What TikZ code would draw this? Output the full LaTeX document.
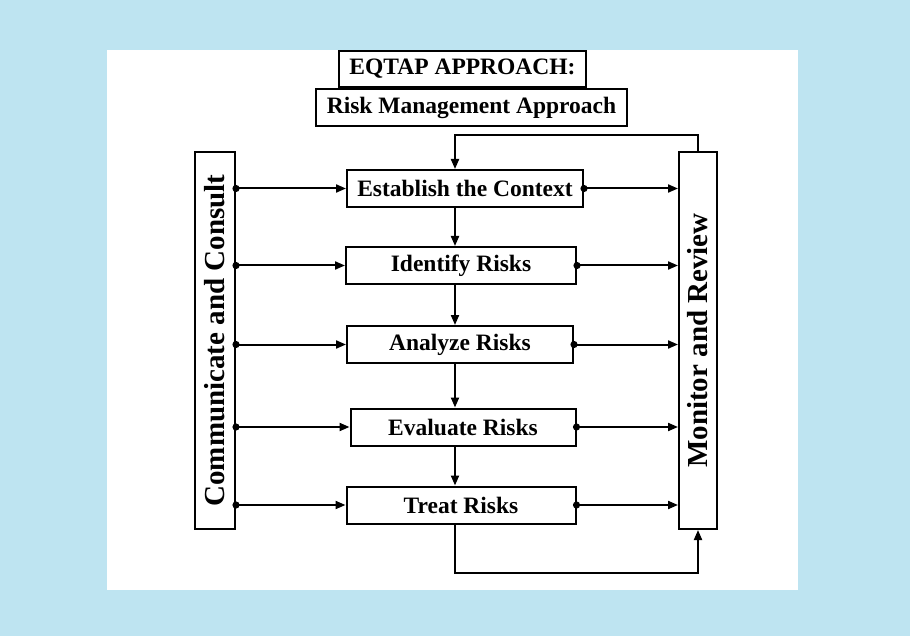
\documentclass[tikz,border=0pt]{standalone}
\usepackage{fontspec}
\setmainfont{Liberation Serif}
\usetikzlibrary{arrows.meta}
\definecolor{bgblue}{RGB}{190,228,241}
\tikzset{
  box/.style={draw=black, line width=2pt, fill=white, inner sep=0pt, font=\bfseries\fontsize{23.5}{28}\selectfont},
  vbox/.style={box, font=\bfseries\fontsize{29}{34}\selectfont},
  conn/.style={line width=2pt, shorten <=-3.5pt, {Circle[length=7pt]}-{Triangle[length=10pt,width=8pt]}},
  flow/.style={line width=2pt, -{Triangle[length=10pt,width=8pt]}},
}
\begin{document}
\begin{tikzpicture}[x=1pt,y=-1pt]
\fill[bgblue] (0,0) rectangle (910,636);
\fill[white] (107,50) rectangle (798,590);
\useasboundingbox (0,0) rectangle (910,636);

\node[box, minimum width=247pt, minimum height=36pt] (eq) at (462.5,69) {EQTAP APPROACH:};
\node[box, minimum width=311pt, minimum height=37pt] (rm) at (471.5,107.5) {Risk Management Approach};

\node[vbox, minimum width=377pt, minimum height=40pt, rotate=90] (cc) at (215,340.5) {Communicate and Consult};
\node[vbox, minimum width=377pt, minimum height=38pt, rotate=90] (mr) at (698,340.5) {Monitor and Review};

\node[box, minimum width=236pt, minimum height=37pt] (est) at (465,188.5) {Establish the Context};
\node[box, minimum width=230pt, minimum height=37pt] (idf) at (461,265.5) {Identify Risks};
\node[box, minimum width=226pt, minimum height=37pt] (ana) at (460,344.5) {Analyze Risks};
\node[box, minimum width=225pt, minimum height=37pt] (eva) at (463,427) {Evaluate Risks};
\node[box, minimum width=229pt, minimum height=37pt] (trt) at (461,505) {Treat Risks};

% coordinates for routing
\coordinate (fx) at (455,0);
\coordinate (ftop) at (0,135);
\coordinate (fbot) at (0,573);

% downward flow
\draw[flow] (est.south -| fx) -- (idf.north -| fx);
\draw[flow] (idf.south -| fx) -- (ana.north -| fx);
\draw[flow] (ana.south -| fx) -- (eva.north -| fx);
\draw[flow] (eva.south -| fx) -- (trt.north -| fx);

% side connectors
\foreach \n in {est,idf,ana,eva,trt}{
  \draw[conn] (cc.south |- \n.west) -- (\n.west);
  \draw[conn] (\n.east) -- (mr.north |- \n.east);
}

% feedback loops
\draw[flow] (mr.east) -- (mr.east |- ftop) -- (ftop -| fx) -- (est.north -| fx);
\draw[flow] (trt.south -| fx) -- (fbot -| fx) -- (fbot -| mr.west) -- (mr.west);
\end{tikzpicture}
\end{document}
